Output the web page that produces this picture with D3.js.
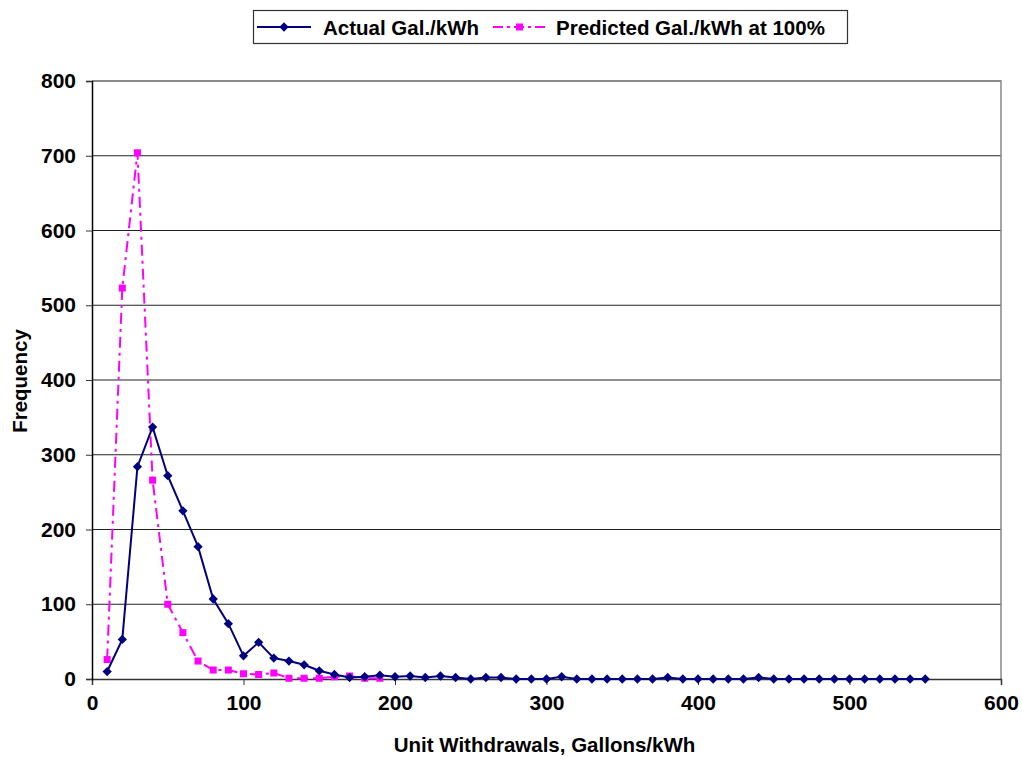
<!DOCTYPE html>
<html><head><meta charset="utf-8">
<script src="https://cdn.jsdelivr.net/npm/d3@7"></script>
<style>body{margin:0;background:#fff}svg{display:block}text{font-family:"Liberation Sans",Arial,sans-serif;font-weight:bold;fill:#000}</style>
</head><body><svg id="c" width="1022" height="757"></svg>
<script>
const actualX = d3.range(10, 551, 10);
const actualY = [10,53,284,337,272,225,177,107,74,31,49,28,24,19,11,6,2,3,5,3,4,2,4,2,0,2,2,0,0,0,3,0,0,0,0,0,0,2,0,0,0,0,0,2,0,0,0,0,0,0,0,0,0,0,0];
const predX = d3.range(10, 191, 10);
const predY = [26,523,704,266,100,62,24,12,12,7,6,8,1,1,1,3,4,1,1];
const xTicks = [0,100,200,300,400,500,600];
const yTicks = [0,100,200,300,400,500,600,700,800];
const seriesNames = ["Actual Gal./kWh","Predicted Gal./kWh at 100%"];

const FONT='"Liberation Sans",Arial,sans-serif';
const svg = d3.select("#c");
const L=92,R=1001,T=81,B=679;
const x = d3.scaleLinear().domain([0,600]).range([L,R]);
const y = d3.scaleLinear().domain([0,800]).range([B,T]);

svg.append("g").selectAll("line").data(yTicks.filter(d=>d>0)).join("line")
  .attr("x1",L).attr("x2",R).attr("y1",d=>y(d)).attr("y2",d=>y(d))
  .attr("stroke","#222").attr("stroke-width",1.2);
svg.append("path").attr("d",`M${L},${T}H${R}V${B}`).attr("fill","none").attr("stroke","#888").attr("stroke-width",1.5);

const xa = svg.append("g").attr("transform",`translate(0,${B})`)
  .call(d3.axisBottom(x).tickValues(xTicks).tickSize(6).tickPadding(10).tickFormat(d3.format("d")));
xa.select(".domain").attr("stroke","#333").attr("stroke-width",1.5);
xa.selectAll(".tick line").attr("stroke","#333");
xa.selectAll("text").style("font-size","21px").style("font-family",FONT).style("font-weight","bold");
const ya = svg.append("g").attr("transform",`translate(${L},0)`)
  .call(d3.axisLeft(y).tickValues(yTicks).tickSize(6).tickPadding(10).tickFormat(d3.format("d")));
ya.select(".domain").attr("stroke","#000").attr("stroke-width",1.5);
ya.selectAll(".tick line").attr("stroke","#333");
ya.selectAll("text").style("font-size","21px").style("font-family",FONT).style("font-weight","bold");

svg.append("text").attr("x",(L+R)/2-2).attr("y",752).attr("text-anchor","middle").style("font-size","20.5px").text("Unit Withdrawals, Gallons/kWh");
svg.append("text").attr("transform","translate(27,381) rotate(-90)").attr("text-anchor","middle").style("font-size","20.5px").text("Frequency");

const line = d3.line().x(d=>x(d[0])).y(d=>y(d[1]));
const pred = predX.map((v,i)=>[v,predY[i]]);
const act = actualX.map((v,i)=>[v,actualY[i]]);
const mag="#ff00ff", navy="#000080";
svg.append("path").datum(pred).attr("d",line).attr("fill","none").attr("stroke",mag).attr("stroke-width",2).attr("stroke-dasharray","11,5,3,5");
svg.append("g").selectAll("rect").data(pred).join("rect")
  .attr("x",d=>x(d[0])-3.5).attr("y",d=>y(d[1])-3.5).attr("width",7).attr("height",7).attr("fill",mag);
svg.append("path").datum(act).attr("d",line).attr("fill","none").attr("stroke",navy).attr("stroke-width",2);
const diamond = d3.symbol().type(d3.symbolDiamond2).size(55);
svg.append("g").selectAll("path").data(act).join("path")
  .attr("transform",d=>`translate(${x(d[0])},${y(d[1])})`).attr("d",diamond).attr("fill",navy);

const lg = svg.append("g");
lg.append("rect").attr("x",253.5).attr("y",10.5).attr("width",594).attr("height",33).attr("fill","#fff").attr("stroke","#333").attr("stroke-width",1.2);
lg.append("line").attr("x1",257).attr("x2",311).attr("y1",27).attr("y2",27).attr("stroke",navy).attr("stroke-width",2);
lg.append("path").attr("transform","translate(284,27)").attr("d",diamond).attr("fill",navy);
lg.append("text").attr("x",323).attr("y",34.5).style("font-size","20.5px").text(seriesNames[0]);
lg.append("line").attr("x1",493).attr("x2",546).attr("y1",27).attr("y2",27).attr("stroke",mag).attr("stroke-width",2).attr("stroke-dasharray","10,4,3,4");
lg.append("rect").attr("x",516).attr("y",23.5).attr("width",7).attr("height",7).attr("fill",mag);
lg.append("text").attr("x",556).attr("y",34.5).style("font-size","20.5px").text(seriesNames[1]);
</script></body></html>
